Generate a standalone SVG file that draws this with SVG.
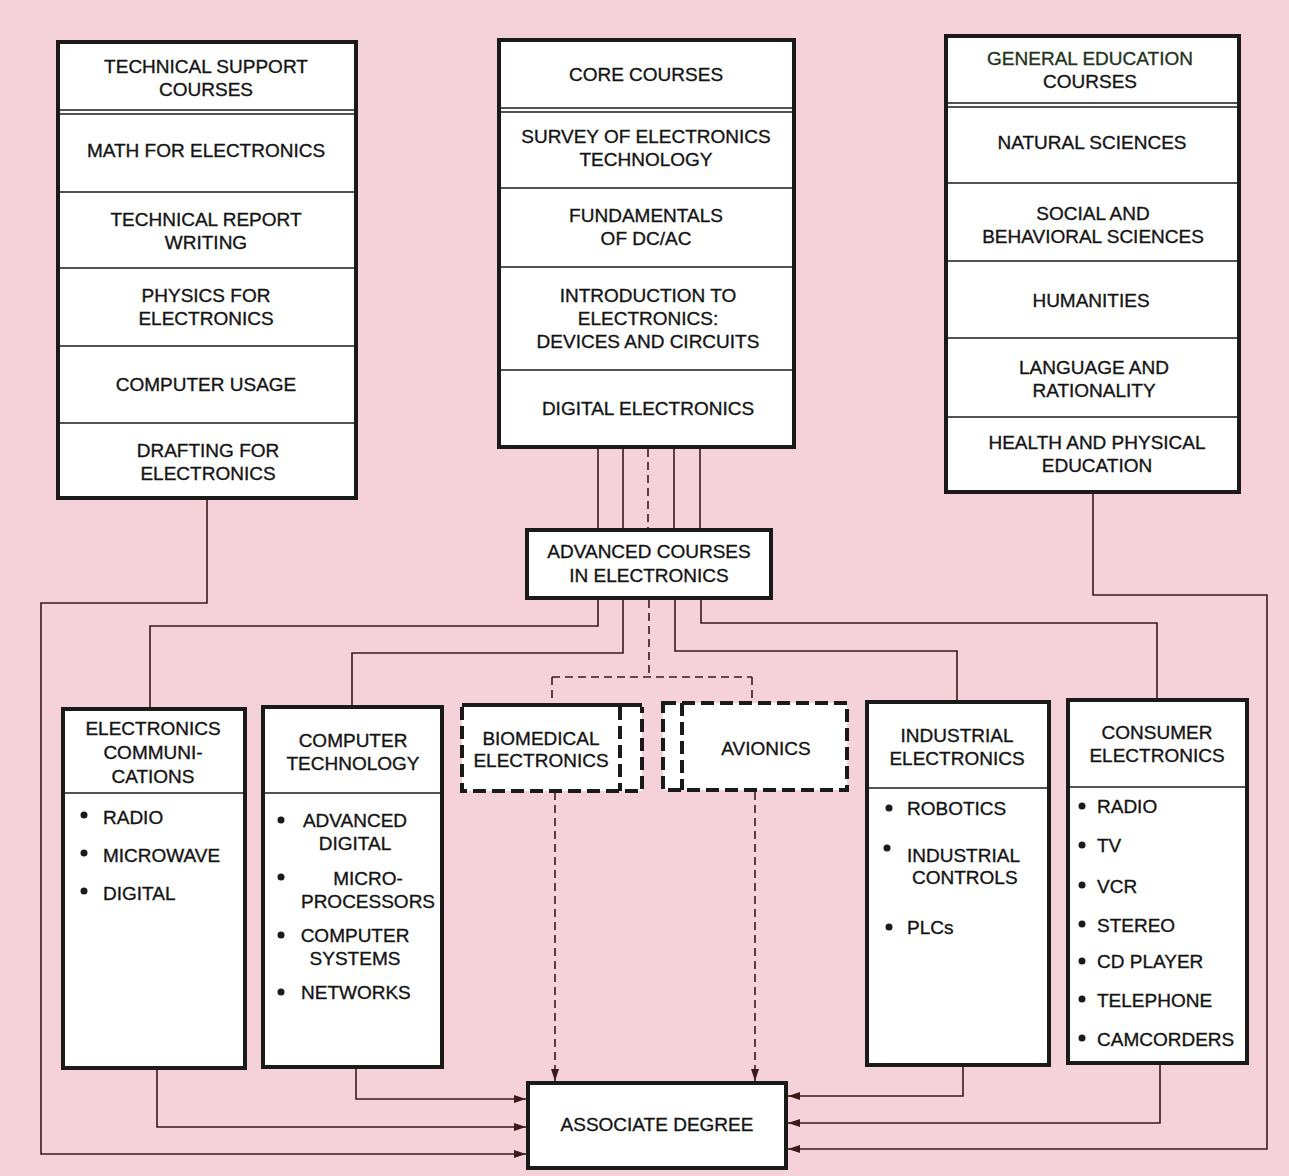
<svg xmlns="http://www.w3.org/2000/svg" width="1289" height="1176" viewBox="0 0 1289 1176">
<defs>
<marker id="arr" markerWidth="12" markerHeight="8" refX="12" refY="4" orient="auto" markerUnits="userSpaceOnUse">
<path d="M0,0 L12,4 L0,8 z" fill="#3a1a1a"/>
</marker>
<style>
.box{fill:#fff;stroke:#1a1a1a;stroke-width:4}
.div{stroke:#1a1a1a;stroke-width:1.5;fill:none}
.dl{stroke:#1a1a1a;stroke-width:4;stroke-dasharray:13 6;fill:none}
.c{stroke:#3a1a1a;stroke-width:1.6;fill:none}
.cd{stroke:#3a1a1a;stroke-width:1.6;fill:none;stroke-dasharray:8 5}
text{font-family:"Liberation Sans",Arial,sans-serif;font-size:19px;fill:#141414;stroke:#141414;stroke-width:0.35}
.m{text-anchor:middle}
.dot{fill:#1a1a1a}
</style>
</defs>
<rect x="0" y="0" width="1289" height="1176" fill="#f5d2d9"/>

<g id="connectors">
<path class="c" d="M598,449 V528 M623,449 V528 M674,449 V528 M700,449 V528"/>
<path class="cd" d="M648,449 V528"/>
<path class="c" d="M598,600 V626 H150 V707"/>
<path class="c" d="M623,600 V653 H352 V705"/>
<path class="cd" d="M649,600 V677 M552,677 H752 M552,677 V703 M752,677 V701"/>
<path class="c" d="M675,600 V651 H957 V700"/>
<path class="c" d="M701,600 V623 H1157 V698"/>
<path class="c" d="M207,500 V603 H41 V1154 H526" marker-end="url(#arr)"/>
<path class="c" d="M1093,494 V595 H1267 V1149 H788" marker-end="url(#arr)"/>
<path class="c" d="M157,1070 V1127 H526" marker-end="url(#arr)"/>
<path class="c" d="M356,1069 V1099 H526" marker-end="url(#arr)"/>
<path class="c" d="M963,1064 V1096 H788" marker-end="url(#arr)"/>
<path class="c" d="M1160,1065 V1123 H788" marker-end="url(#arr)"/>
<path class="cd" d="M555,792 V1081" marker-end="url(#arr)"/>
<path class="cd" d="M755,792 V1081" marker-end="url(#arr)"/>
</g>

<g id="technical-support">
<rect class="box" x="58" y="42" width="298" height="456"/>
<path class="div" d="M60,110 H354 M60,114 H354 M60,192 H354 M60,268 H354 M60,346 H354 M60,423 H354"/>
<text class="m" x="206" y="73">TECHNICAL SUPPORT</text>
<text class="m" x="206" y="96">COURSES</text>
<text class="m" x="206" y="157">MATH FOR ELECTRONICS</text>
<text class="m" x="206" y="226">TECHNICAL REPORT</text>
<text class="m" x="206" y="249">WRITING</text>
<text class="m" x="206" y="302">PHYSICS FOR</text>
<text class="m" x="206" y="325">ELECTRONICS</text>
<text class="m" x="206" y="391">COMPUTER USAGE</text>
<text class="m" x="208" y="457">DRAFTING FOR</text>
<text class="m" x="208" y="480">ELECTRONICS</text>
</g>

<g id="core-courses">
<rect class="box" x="499" y="40" width="295" height="407"/>
<path class="div" d="M501,108 H792 M501,112 H792 M501,188 H792 M501,267 H792 M501,370 H792"/>
<text class="m" x="646" y="81">CORE COURSES</text>
<text class="m" x="646" y="143">SURVEY OF ELECTRONICS</text>
<text class="m" x="646" y="166">TECHNOLOGY</text>
<text class="m" x="646" y="222">FUNDAMENTALS</text>
<text class="m" x="646" y="245">OF DC/AC</text>
<text class="m" x="648" y="302">INTRODUCTION TO</text>
<text class="m" x="648" y="325">ELECTRONICS:</text>
<text class="m" x="648" y="348">DEVICES AND CIRCUITS</text>
<text class="m" x="648" y="415">DIGITAL ELECTRONICS</text>
</g>

<g id="general-education">
<rect class="box" x="946" y="36" width="293" height="456"/>
<path class="div" d="M948,103 H1237 M948,107 H1237 M948,183 H1237 M948,261 H1237 M948,338 H1237 M948,417 H1237"/>
<text class="m" x="1090" y="65" style="fill:#1f3320;stroke:#1f3320">GENERAL EDUCATION</text>
<text class="m" x="1090" y="88">COURSES</text>
<text class="m" x="1092" y="149">NATURAL SCIENCES</text>
<text class="m" x="1093" y="220">SOCIAL AND</text>
<text class="m" x="1093" y="243">BEHAVIORAL SCIENCES</text>
<text class="m" x="1091" y="307">HUMANITIES</text>
<text class="m" x="1094" y="374">LANGUAGE AND</text>
<text class="m" x="1094" y="397">RATIONALITY</text>
<text class="m" x="1097" y="449">HEALTH AND PHYSICAL</text>
<text class="m" x="1097" y="472">EDUCATION</text>
</g>

<g id="advanced-courses">
<rect class="box" x="527" y="530" width="244" height="68"/>
<text class="m" x="649" y="558">ADVANCED COURSES</text>
<text class="m" x="649" y="582">IN ELECTRONICS</text>
</g>

<g id="electronics-communications">
<rect class="box" x="63" y="709" width="182" height="359"/>
<path class="div" d="M65,793 H243"/>
<text class="m" x="153" y="735">ELECTRONICS</text>
<text class="m" x="153" y="759">COMMUNI-</text>
<text class="m" x="153" y="783">CATIONS</text>
<circle class="dot" cx="84" cy="815" r="3.5"/>
<text x="103" y="824">RADIO</text>
<circle class="dot" cx="84" cy="853" r="3.5"/>
<text x="103" y="862">MICROWAVE</text>
<circle class="dot" cx="84" cy="891" r="3.5"/>
<text x="103" y="900">DIGITAL</text>
</g>

<g id="computer-technology">
<rect class="box" x="263" y="707" width="179" height="360"/>
<path class="div" d="M265,793 H440"/>
<text class="m" x="353" y="747">COMPUTER</text>
<text class="m" x="353" y="770">TECHNOLOGY</text>
<circle class="dot" cx="281" cy="820" r="3.5"/>
<text class="m" x="355" y="827">ADVANCED</text>
<text class="m" x="355" y="850">DIGITAL</text>
<circle class="dot" cx="281" cy="877" r="3.5"/>
<text class="m" x="368" y="885">MICRO-</text>
<text class="m" x="368" y="908">PROCESSORS</text>
<circle class="dot" cx="281" cy="935" r="3.5"/>
<text class="m" x="355" y="942">COMPUTER</text>
<text class="m" x="355" y="965">SYSTEMS</text>
<circle class="dot" cx="281" cy="992" r="3.5"/>
<text x="301" y="999">NETWORKS</text>
</g>

<g id="biomedical">
<rect x="462" y="705" width="180" height="86" fill="#fff"/>
<path d="M462,705 H642" stroke="#1a1a1a" stroke-width="4"/>
<path class="dl" d="M462,707 V791 H642 V707 M620,707 V791"/>
<text class="m" x="541" y="745">BIOMEDICAL</text>
<text class="m" x="541" y="767">ELECTRONICS</text>
</g>

<g id="avionics">
<rect x="663" y="703" width="184" height="87" fill="#fff"/>
<path class="dl" d="M663,703 H847 V790 H663 Z M682,703 V790"/>
<text class="m" x="766" y="755">AVIONICS</text>
</g>

<g id="industrial-electronics">
<rect class="box" x="867" y="702" width="182" height="363"/>
<path class="div" d="M869,788 H1047"/>
<text class="m" x="957" y="742">INDUSTRIAL</text>
<text class="m" x="957" y="765">ELECTRONICS</text>
<circle class="dot" cx="889" cy="808" r="3.5"/>
<text x="907" y="815">ROBOTICS</text>
<circle class="dot" cx="887" cy="848" r="3.5"/>
<text x="907" y="862">INDUSTRIAL</text>
<text x="912" y="884">CONTROLS</text>
<circle class="dot" cx="889" cy="927" r="3.5"/>
<text x="907" y="934">PLCs</text>
</g>

<g id="consumer-electronics">
<rect class="box" x="1068" y="700" width="179" height="363"/>
<path class="div" d="M1070,787 H1245"/>
<text class="m" x="1157" y="739">CONSUMER</text>
<text class="m" x="1157" y="762">ELECTRONICS</text>
<circle class="dot" cx="1082" cy="806" r="3.5"/>
<text x="1097" y="813">RADIO</text>
<circle class="dot" cx="1082" cy="845" r="3.5"/>
<text x="1097" y="852">TV</text>
<circle class="dot" cx="1082" cy="885" r="3.5"/>
<text x="1097" y="893">VCR</text>
<circle class="dot" cx="1082" cy="924" r="3.5"/>
<text x="1097" y="932">STEREO</text>
<circle class="dot" cx="1082" cy="961" r="3.5"/>
<text x="1097" y="968">CD PLAYER</text>
<circle class="dot" cx="1082" cy="999" r="3.5"/>
<text x="1097" y="1007">TELEPHONE</text>
<circle class="dot" cx="1082" cy="1038" r="3.5"/>
<text x="1097" y="1046">CAMCORDERS</text>
</g>

<g id="associate-degree">
<rect class="box" x="528" y="1083" width="258" height="85"/>
<text class="m" x="657" y="1131">ASSOCIATE DEGREE</text>
</g>
</svg>
